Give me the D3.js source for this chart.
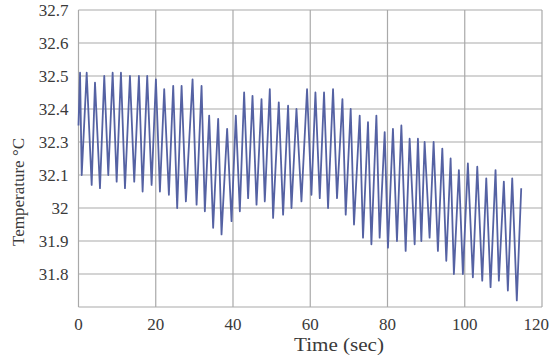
<!DOCTYPE html>
<html>
<head>
<meta charset="utf-8">
<script src="https://cdn.jsdelivr.net/npm/d3@7/dist/d3.min.js"></script>
<style>
  body { margin: 0; background: #fff; }
  svg text { font-family: "Liberation Serif", "Times New Roman", serif; fill: #3a3a3a; }
  .grid line { stroke: #a9a9a9; stroke-width: 1.2; }
  .line { fill: none; stroke: #5562a3; stroke-width: 1.8; stroke-linejoin: round; }
</style>
</head>
<body>
<svg width="550" height="358"></svg>
<script>
// time (sec), alternating peaks and troughs
const timeSec = [
  0, 0.4, 0.83, 2.12, 3.41, 4.27, 5.56, 6.67, 7.71, 8.84, 9.88, 10.99, 12.03, 13.32, 14.43,
  15.64, 16.6, 17.79, 18.93, 20.04, 21.08, 22.19, 23.4, 24.52, 25.55, 26.69, 27.8, 29.53,
  30.57, 31.86, 32.71, 33.83, 34.86, 36.16, 37.03, 38.48, 39.62, 40.73, 41.77, 42.88, 43.91,
  45.05, 46.09, 47.38, 48.23, 49.53, 50.38, 51.85, 52.97, 54.26, 55.14, 56.43, 57.72, 59.17,
  60.31, 61.34, 62.46, 63.57, 64.61, 65.9, 66.93, 68.33, 69.18, 70.47, 71.33, 72.8, 73.66,
  74.95, 75.83, 77.12, 77.97, 79.27, 80.12, 81.41, 82.45, 83.59, 84.7, 85.73, 87.03, 87.88,
  88.76, 89.61, 90.9, 91.94, 93.05, 94.19, 95.22, 96.34, 97.19, 98.48, 99.52, 100.81, 102.1,
  103.24, 104.53, 105.57, 106.68, 107.97, 108.83, 110.12, 111.16, 112.29, 113.48, 114.62
];
const temperature = [
  32.35, 32.51, 32.10, 32.51, 32.07, 32.48, 32.06, 32.50, 32.10, 32.51, 32.08, 32.51, 32.06, 32.50, 32.08,
  32.50, 32.05, 32.50, 32.07, 32.49, 32.05, 32.46, 32.04, 32.47, 32.00, 32.47, 32.02, 32.49,
  32.01, 32.47, 31.99, 32.38, 31.94, 32.37, 31.92, 32.34, 31.96, 32.38, 31.99, 32.45, 32.03,
  32.44, 32.01, 32.43, 32.02, 32.46, 31.97, 32.42, 31.98, 32.41, 32.00, 32.40, 32.02, 32.46,
  32.04, 32.45, 32.03, 32.45, 32.00, 32.46, 32.03, 32.43, 31.98, 32.40, 31.95, 32.38, 31.91,
  32.36, 31.89, 32.38, 31.91, 32.33, 31.88, 32.34, 31.90, 32.35, 31.87, 32.31, 31.89, 32.31,
  31.90, 32.30, 31.91, 32.30, 31.87, 32.26, 31.84, 32.20, 31.80, 32.13, 31.80, 32.17, 31.79,
  32.15, 31.78, 32.09, 31.76, 32.13, 31.78, 32.08, 31.75, 32.09, 31.72, 32.06
];

const xTicks = [0, 20, 40, 60, 80, 100, 120];
// the picture skips 32.2 on its value axis; the gridlines stay evenly spaced
const yTicks = [31.7, 31.8, 31.9, 32, 32.1, 32.3, 32.4, 32.5, 32.6, 32.7];
const yTickLabels = ['', '31.8', '31.9', '32', '32.1', '32.3', '32.4', '32.5', '32.6', '32.7'];

const margin = { top: 10, right: 8, bottom: 51, left: 78.5 };
const width = 550 - margin.left - margin.right;
const height = 358 - margin.top - margin.bottom;

const svg = d3.select('svg');
const g = svg.append('g')
  .attr('transform', 'translate(' + margin.left + ',' + margin.top + ')');

const x = d3.scaleLinear().domain([0, 120]).range([0, width]);
const y = d3.scaleLinear()
  .domain([31.7, 32.1, 32.3, 32.7])
  .range([height, height * 5 / 9, height * 4 / 9, 0]);

// gridlines
const grid = g.append('g').attr('class', 'grid');
grid.selectAll('.hgrid')
  .data(yTicks)
  .enter().append('line')
  .attr('x1', 0).attr('x2', width)
  .attr('y1', d => y(d)).attr('y2', d => y(d));
grid.selectAll('.vgrid')
  .data(xTicks)
  .enter().append('line')
  .attr('x1', d => x(d)).attr('x2', d => x(d))
  .attr('y1', 0).attr('y2', height);

// tick labels
g.selectAll('.ylab')
  .data(yTicks)
  .enter().append('text')
  .attr('x', -10)
  .attr('y', d => y(d))
  .attr('dy', '0.35em')
  .attr('text-anchor', 'end')
  .style('font-size', '17px')
  .text((d, i) => yTickLabels[i]);

// last label is pulled in so it stays inside the picture
g.selectAll('.xlab')
  .data(xTicks)
  .enter().append('text')
  .attr('x', d => d === 120 ? x(d) + 7 : x(d))
  .attr('y', height + 23)
  .attr('text-anchor', d => d === 120 ? 'end' : 'middle')
  .style('font-size', '17px')
  .text(d => d);

// axis titles
svg.append('text')
  .attr('x', 339)
  .attr('y', 351)
  .attr('text-anchor', 'middle')
  .attr('textLength', 90)
  .attr('lengthAdjust', 'spacingAndGlyphs')
  .style('font-size', '18px')
  .text('Time (sec)');

svg.append('text')
  .attr('transform', 'translate(24,192) rotate(-90)')
  .attr('text-anchor', 'middle')
  .style('font-size', '17px')
  .text('Temperature °C');

// the series
const line = d3.line()
  .x((d, i) => x(timeSec[i]))
  .y(d => y(d));

g.append('path')
  .datum(temperature)
  .attr('class', 'line')
  .attr('d', line);
</script>
</body>
</html>
